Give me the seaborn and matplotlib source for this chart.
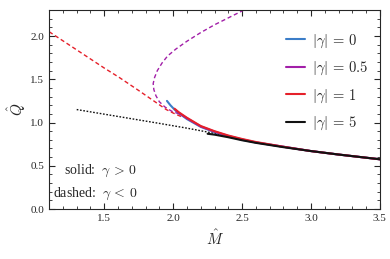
import pandas as pd
import matplotlib
matplotlib.use("Agg")
import matplotlib.pyplot as plt
import seaborn as sns
from matplotlib.ticker import MultipleLocator
from matplotlib.lines import Line2D

# solid branches (gamma > 0)
m_g0 = [1.955, 1.98, 2.01, 2.04, 2.1, 2.2, 2.3, 2.4, 2.5, 2.6, 2.8, 3.0, 3.2, 3.5]
q_g0 = [1.25, 1.20, 1.15, 1.11, 1.04, 0.95, 0.89, 0.84, 0.80, 0.77, 0.72, 0.67, 0.63, 0.575]
m_g05 = [2.02, 2.05, 2.1, 2.2, 2.3, 2.4, 2.5, 2.6, 2.8, 3.0, 3.2, 3.5]
q_g05 = [1.14, 1.10, 1.05, 0.955, 0.895, 0.845, 0.805, 0.77, 0.72, 0.67, 0.63, 0.575]
m_g1 = [2.01, 2.04, 2.1, 2.2, 2.3, 2.4, 2.5, 2.6, 2.8, 3.0, 3.2, 3.5]
q_g1 = [1.16, 1.12, 1.055, 0.96, 0.90, 0.85, 0.81, 0.775, 0.72, 0.67, 0.63, 0.575]
m_g5 = [2.25, 2.3, 2.4, 2.5, 2.6, 2.8, 3.0, 3.2, 3.5]
q_g5 = [0.87, 0.86, 0.83, 0.795, 0.765, 0.715, 0.67, 0.63, 0.575]

# dashed branches (gamma < 0)
m_n05 = [2.6, 2.5, 2.4, 2.3, 2.2, 2.1, 2.02, 1.96, 1.92, 1.885, 1.865, 1.855,
         1.86, 1.875, 1.90, 1.94, 1.99, 2.06]
q_n05 = [2.38, 2.29, 2.21, 2.13, 2.04, 1.94, 1.85, 1.77, 1.69, 1.60, 1.52, 1.45,
         1.38, 1.31, 1.24, 1.18, 1.13, 1.09]
m_n1 = [1.1, 1.3, 1.5, 1.61, 1.75, 1.85, 1.95, 2.0, 2.07]
q_n1 = [2.05, 1.84, 1.63, 1.52, 1.37, 1.26, 1.15, 1.11, 1.06]
m_n5 = [1.3, 1.6, 1.9, 2.1, 2.3, 2.5]
q_n5 = [1.15, 1.07, 0.99, 0.935, 0.875, 0.80]

labels = [r"$|\gamma|\,=\,0$", r"$|\gamma|\,=\,0.5$", r"$|\gamma|\,=\,1$", r"$|\gamma|\,=\,5$"]
colors = ["#3b7dc8", "#a21fa8", "#e5202a", "#111111"]

sns.set_style("ticks")
plt.rcParams["font.family"] = ["Liberation Serif", "DejaVu Serif"]
plt.rcParams["mathtext.fontset"] = "cm"

fig = plt.figure(figsize=(3.9, 2.59), dpi=100)
ax = fig.add_axes([0.126, 0.193, 0.848, 0.768])

dashed = [(m_n05, q_n05, colors[1], (3, 2)),
          (m_n1, q_n1, colors[2], (3, 2)),
          (m_n5, q_n5, colors[3], (1.2, 1.2))]
for mm, qq, c, dash in dashed:
    df = pd.DataFrame({"M": mm, "Q": qq})
    sns.lineplot(data=df, x="M", y="Q", sort=False, color=c, lw=1.0,
                 ax=ax, linestyle=(0, dash))

solid = [(m_g0, q_g0), (m_g05, q_g05), (m_g1, q_g1), (m_g5, q_g5)]
for (mm, qq), c in zip(solid, colors):
    df = pd.DataFrame({"M": mm, "Q": qq})
    sns.lineplot(data=df, x="M", y="Q", sort=False, color=c, lw=1.5, ax=ax)

handles = [Line2D([], [], color=c, lw=1.5) for c in colors]
ax.legend(handles, labels, loc="upper right", frameon=False, fontsize=10.5,
          handlelength=1.3, handletextpad=0.5, labelspacing=0.7,
          bbox_to_anchor=(1.005, 0.955))

ax.text(1.74, 0.44, r"solid:  $\gamma\,>\,0$", ha="right", va="center", fontsize=10)
ax.text(1.74, 0.18, r"dashed:  $\gamma\,<\,0$", ha="right", va="center", fontsize=10)

ax.set_xlim(1.1, 3.5)
ax.set_ylim(0.0, 2.3)
ax.xaxis.set_major_locator(MultipleLocator(0.5))
ax.xaxis.set_minor_locator(MultipleLocator(0.1))
ax.yaxis.set_major_locator(MultipleLocator(0.5))
ax.yaxis.set_minor_locator(MultipleLocator(0.1))
ax.tick_params(which="both", direction="in", top=True, right=True, labelsize=8)
ax.tick_params(which="major", length=4)
ax.tick_params(which="minor", length=2)
ax.set_xlabel(r"$\hat{M}$", fontsize=11)
ax.set_ylabel(r"$\hat{Q}$", fontsize=11, labelpad=2)

fig.savefig("out.png", dpi=100)
